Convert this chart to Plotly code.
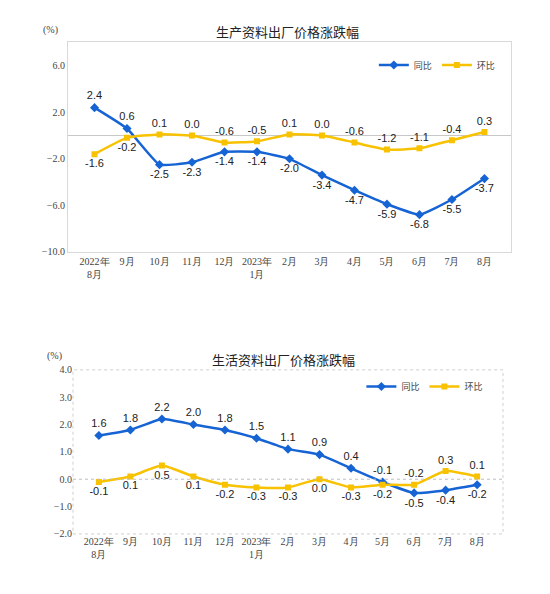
import plotly.graph_objects as go
from plotly.subplots import make_subplots

months = ['2022年<br>8月', '9月', '10月', '11月', '12月', '2023年<br>1月',
          '2月', '3月', '4月', '5月', '6月', '7月', '8月']

# 生产资料
prod_yoy = [2.4, 0.6, -2.5, -2.3, -1.4, -1.4, -2.0, -3.4, -4.7, -5.9, -6.8, -5.5, -3.7]
prod_mom = [-1.6, -0.2, 0.1, 0.0, -0.6, -0.5, 0.1, 0.0, -0.6, -1.2, -1.1, -0.4, 0.3]
# 生活资料
life_yoy = [1.6, 1.8, 2.2, 2.0, 1.8, 1.5, 1.1, 0.9, 0.4, -0.1, -0.5, -0.4, -0.2]
life_mom = [-0.1, 0.1, 0.5, 0.1, -0.2, -0.3, -0.3, 0.0, -0.3, -0.2, -0.2, 0.3, 0.1]

T, B = 'top center', 'bottom center'
prod_yoy_pos = [T, T] + [B] * 11
prod_mom_pos = [B, B] + [T] * 11
life_yoy_pos = [T] * 10 + [B] * 3
life_mom_pos = [B] * 10 + [T] * 3

blue = '#1664d4'
yellow = '#f8c200'
lab_font = dict(family='Liberation Sans, Arial', size=11, color='#222')
tick_font = dict(family='Liberation Serif, Times New Roman', size=10, color='#444')

fig = make_subplots(rows=2, cols=1)


def add_pair(yoy, mom, yoy_pos, mom_pos, row, legend):
    fig.add_trace(go.Scatter(
        x=months, y=yoy, name='同比', mode='lines+markers+text',
        line=dict(color=blue, width=2.5, shape='spline', smoothing=0.4),
        marker=dict(symbol='diamond', size=7, color=blue),
        text=[f'{v:.1f}' for v in yoy], textposition=yoy_pos,
        textfont=lab_font, legend=legend), row=row, col=1)
    fig.add_trace(go.Scatter(
        x=months, y=mom, name='环比', mode='lines+markers+text',
        line=dict(color=yellow, width=2.5, shape='spline', smoothing=0.5),
        marker=dict(symbol='square', size=6, color=yellow),
        text=[f'{v:.1f}' for v in mom], textposition=mom_pos,
        textfont=lab_font, legend=legend), row=row, col=1)


add_pair(prod_yoy, prod_mom, prod_yoy_pos, prod_mom_pos, 1, 'legend')
add_pair(life_yoy, life_mom, life_yoy_pos, life_mom_pos, 2, 'legend2')

fig.update_xaxes(tickfont=tick_font, showgrid=False, ticks='', tickangle=0)
fig.update_xaxes(domain=[0.1107, 0.928], showline=True, linecolor='#d9d9d9',
                 mirror=True, row=1, col=1)
fig.update_xaxes(domain=[0.1199, 0.9133], showline=False, row=2, col=1)

fig.update_yaxes(range=[-10, 8], tickvals=[-10, -6, -2, 2, 6], tickformat='.1f',
                 domain=[0.5853, 0.9488], showgrid=False, zeroline=True,
                 zerolinecolor='#c8c8c8', zerolinewidth=1, showline=True,
                 linecolor='#d9d9d9', mirror=True, tickfont=tick_font,
                 row=1, col=1)
fig.update_yaxes(range=[-2, 4], dtick=1, tickformat='.1f',
                 domain=[0.0956, 0.3805], showgrid=False, zeroline=False,
                 showline=False, tickfont=tick_font, row=2, col=1)

# dotted frame and zero line for the lower chart
fig.add_shape(type='rect', xref='x2 domain', yref='y2 domain', x0=0, x1=1, y0=0, y1=1,
              line=dict(color='#cfcfcf', width=1, dash='dot'))
fig.add_shape(type='line', xref='x2 domain', yref='y2', x0=0, x1=1, y0=0, y1=0,
              line=dict(color='#bdbdbd', width=1, dash='dot'))

title_font = dict(family='Noto Sans CJK SC', size=13, color='#222')
fig.add_annotation(text='生产资料出厂价格涨跌幅', xref='paper', yref='paper',
                   x=0.515, y=0.9676, xanchor='center', yanchor='middle',
                   showarrow=False, font=title_font)
fig.add_annotation(text='生活资料出厂价格涨跌幅', xref='paper', yref='paper',
                   x=0.509, y=0.399, xanchor='center', yanchor='middle',
                   showarrow=False, font=title_font)
fig.add_annotation(text='(%)', xref='paper', yref='paper', x=0.0775, y=0.971,
                   xanchor='center', yanchor='middle', showarrow=False,
                   font=dict(family='Liberation Serif', size=10, color='#444'))
fig.add_annotation(text='(%)', xref='paper', yref='paper', x=0.0867, y=0.4044,
                   xanchor='center', yanchor='middle', showarrow=False,
                   font=dict(family='Liberation Serif', size=10, color='#444'))

leg = dict(orientation='h', font=dict(family='Noto Sans CJK SC', size=9, color='#444'),
           bgcolor='rgba(0,0,0,0)', itemwidth=30, tracegroupgap=0)
fig.update_layout(
    width=542, height=586, margin=dict(l=0, r=0, t=0, b=0),
    paper_bgcolor='white', plot_bgcolor='white',
    legend=dict(leg, x=0.675, y=0.9096, xanchor='left', yanchor='middle'),
    legend2=dict(leg, x=0.652, y=0.3515, xanchor='left', yanchor='middle'),
)

fig.write_html('out.html')
